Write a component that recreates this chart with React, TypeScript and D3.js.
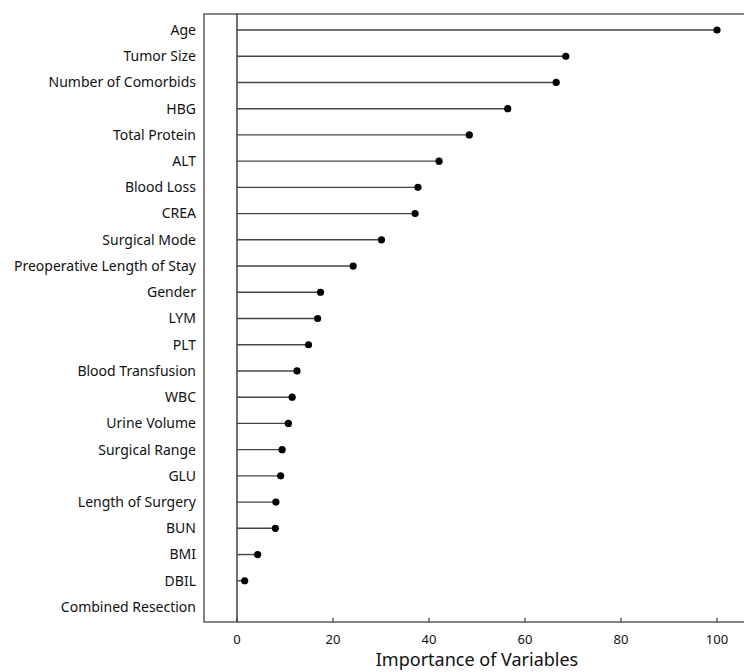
import { useEffect, useRef } from 'react';
import * as d3 from 'd3';

const variables = [
  'Age', 'Tumor Size', 'Number of Comorbids', 'HBG', 'Total Protein', 'ALT',
  'Blood Loss', 'CREA', 'Surgical Mode', 'Preoperative Length of Stay', 'Gender',
  'LYM', 'PLT', 'Blood Transfusion', 'WBC', 'Urine Volume', 'Surgical Range',
  'GLU', 'Length of Surgery', 'BUN', 'BMI', 'DBIL', 'Combined Resection'
];

const importance = [
  100, 68.5, 66.5, 56.4, 48.4, 42.1,
  37.7, 37.1, 30.1, 24.2, 17.4,
  16.8, 14.9, 12.5, 11.5, 10.7, 9.4,
  9.1, 8.1, 8.0, 4.3, 1.6, 0
];

const xTicks = [0, 20, 40, 60, 80, 100];

const App = () => {
  const svgRef = useRef<SVGSVGElement | null>(null);

  useEffect(() => {
    const width = 744;
    const height = 672;
    const frame = { left: 204, top: 14, right: 746, bottom: 622 };
    const font = "'Noto Sans', sans-serif";

    const data = variables.map((name, i) => ({ name, value: importance[i] }));

    const svg = d3.select(svgRef.current)
      .attr('width', width)
      .attr('height', height);
    svg.selectAll('*').remove();

    // 0 sits at x=237, 100 at x=717
    const x = d3.scaleLinear()
      .domain([-6.875, 105.625])
      .range([204, 744]);

    const y = d3.scalePoint<string>()
      .domain(variables)
      .range([30, 607]);

    // frame
    svg.append('rect')
      .attr('x', frame.left)
      .attr('y', frame.top)
      .attr('width', frame.right - frame.left)
      .attr('height', frame.bottom - frame.top)
      .attr('fill', 'none')
      .attr('stroke', '#333')
      .attr('stroke-width', 1.2);

    // zero line
    svg.append('line')
      .attr('x1', x(0)).attr('x2', x(0))
      .attr('y1', frame.top).attr('y2', frame.bottom)
      .attr('stroke', '#222')
      .attr('stroke-width', 1.3);

    // stems
    svg.selectAll('line.stem')
      .data(data)
      .join('line')
      .attr('class', 'stem')
      .attr('x1', x(0))
      .attr('x2', d => x(d.value))
      .attr('y1', d => y(d.name)!)
      .attr('y2', d => y(d.name)!)
      .attr('stroke', '#444')
      .attr('stroke-width', 1.4);

    // dots
    svg.selectAll('circle')
      .data(data.filter(d => d.value > 0))
      .join('circle')
      .attr('cx', d => x(d.value))
      .attr('cy', d => y(d.name)!)
      .attr('r', 3.6)
      .attr('fill', '#000');

    // y labels
    svg.selectAll('text.ylab')
      .data(data)
      .join('text')
      .attr('class', 'ylab')
      .attr('x', 196)
      .attr('y', d => y(d.name)!)
      .attr('dy', '0.35em')
      .attr('text-anchor', 'end')
      .style('font-family', font)
      .style('font-size', '14px')
      .style('fill', '#111')
      .text(d => d.name);

    // x ticks (inside)
    svg.selectAll('line.xtick')
      .data(xTicks)
      .join('line')
      .attr('class', 'xtick')
      .attr('x1', d => x(d)).attr('x2', d => x(d))
      .attr('y1', frame.bottom).attr('y2', frame.bottom - 4)
      .attr('stroke', '#333')
      .attr('stroke-width', 1.2);

    svg.selectAll('text.xlab')
      .data(xTicks)
      .join('text')
      .attr('class', 'xlab')
      .attr('x', d => x(d))
      .attr('y', 639)
      .attr('dy', '0.35em')
      .attr('text-anchor', 'middle')
      .style('font-family', font)
      .style('font-size', '13px')
      .style('fill', '#111')
      .text(d => d);

    svg.append('text')
      .attr('x', 477)
      .attr('y', 666)
      .attr('text-anchor', 'middle')
      .style('font-family', font)
      .style('font-size', '18px')
      .style('fill', '#111')
      .text('Importance of Variables');
  }, []);

  return (
    <div style={{ position: 'absolute', left: 0, top: 0 }}>
      <svg ref={svgRef} style={{ display: 'block' }} />
    </div>
  );
};

export default App;
